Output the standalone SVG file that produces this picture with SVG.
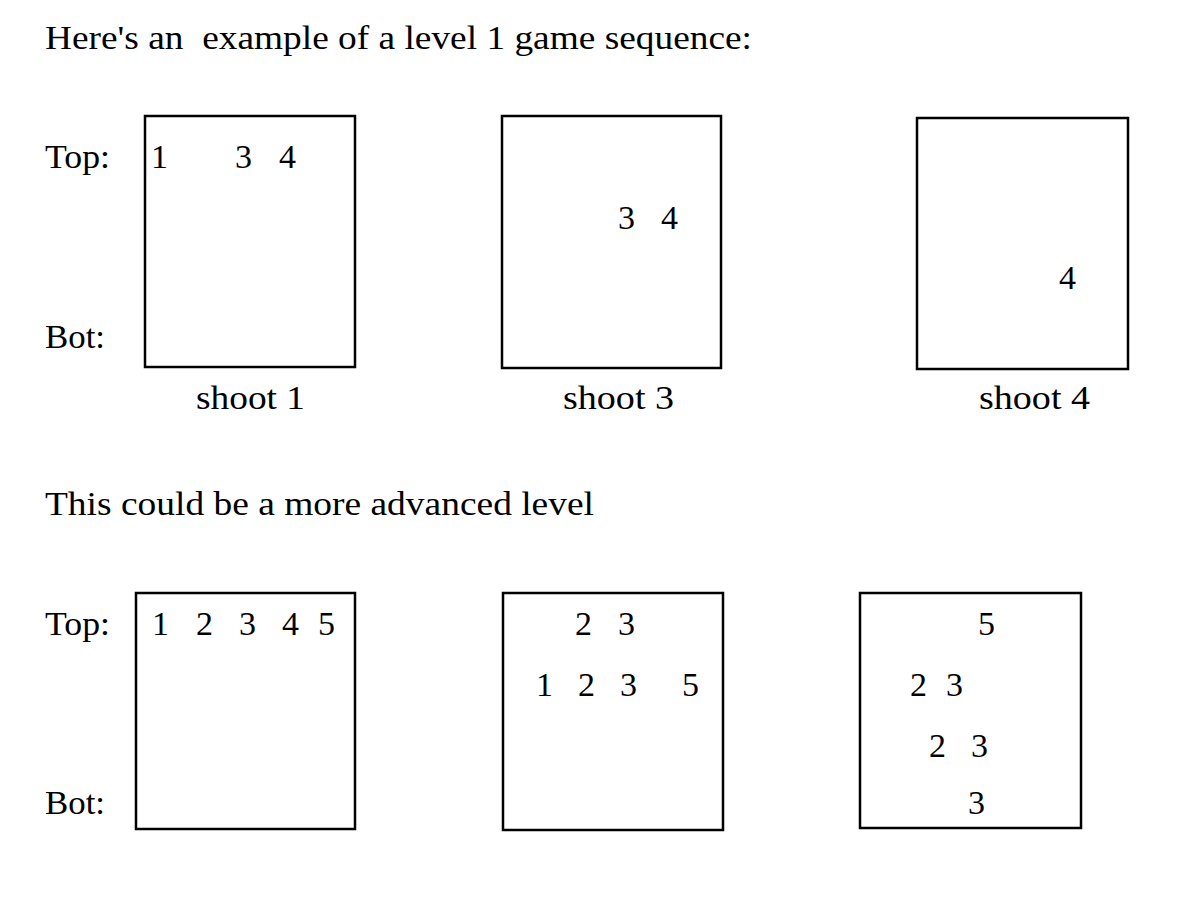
<svg xmlns="http://www.w3.org/2000/svg" width="1188" height="914" viewBox="0 0 1188 914">
<style>
text{font-family:"Liberation Serif","DejaVu Serif",serif;font-size:34px;fill:#000}
.box{fill:#fff;stroke:#000;stroke-width:2.5}
</style>
<rect width="1188" height="914" fill="#fff"/>
<g id="labels">
<text x="45" y="49" textLength="707" lengthAdjust="spacingAndGlyphs" xml:space="preserve">Here's an  example of a level 1 game sequence:</text>
<text x="45" y="168" textLength="65" lengthAdjust="spacingAndGlyphs">Top:</text>
<text x="45" y="348" textLength="60" lengthAdjust="spacingAndGlyphs">Bot:</text>
<text x="45" y="515" textLength="549" lengthAdjust="spacingAndGlyphs">This could be a more advanced level</text>
<text x="45" y="635" textLength="65" lengthAdjust="spacingAndGlyphs">Top:</text>
<text x="45" y="814" textLength="60" lengthAdjust="spacingAndGlyphs">Bot:</text>
</g>
<g id="frame1">
<rect class="box" x="145" y="116" width="210" height="251"/>
<text x="151" y="168">1</text><text x="235" y="168">3</text><text x="279" y="168">4</text>
<text x="196" y="409" textLength="109" lengthAdjust="spacingAndGlyphs">shoot 1</text>
</g>
<g id="frame2">
<rect class="box" x="502" y="116" width="219" height="252"/>
<text x="618" y="229">3</text><text x="661" y="229">4</text>
<text x="563" y="409" textLength="111" lengthAdjust="spacingAndGlyphs">shoot 3</text>
</g>
<g id="frame3">
<rect class="box" x="917" y="118" width="211" height="251"/>
<text x="1059" y="289">4</text>
<text x="979" y="409" textLength="111" lengthAdjust="spacingAndGlyphs">shoot 4</text>
</g>
<g id="frame4">
<rect class="box" x="136" y="593" width="219" height="236"/>
<text x="152" y="635">1</text><text x="196" y="635">2</text><text x="239" y="635">3</text><text x="282" y="635">4</text><text x="318" y="635">5</text>
</g>
<g id="frame5">
<rect class="box" x="503" y="593" width="220" height="237"/>
<text x="575" y="635">2</text><text x="618" y="635">3</text>
<text x="536" y="696">1</text><text x="578" y="696">2</text><text x="620" y="696">3</text><text x="682" y="696">5</text>
</g>
<g id="frame6">
<rect class="box" x="860" y="593" width="221" height="235"/>
<text x="978" y="635">5</text>
<text x="910" y="696">2</text><text x="946" y="696">3</text>
<text x="929" y="757">2</text><text x="971" y="757">3</text>
<text x="968" y="814">3</text>
</g>
</svg>
